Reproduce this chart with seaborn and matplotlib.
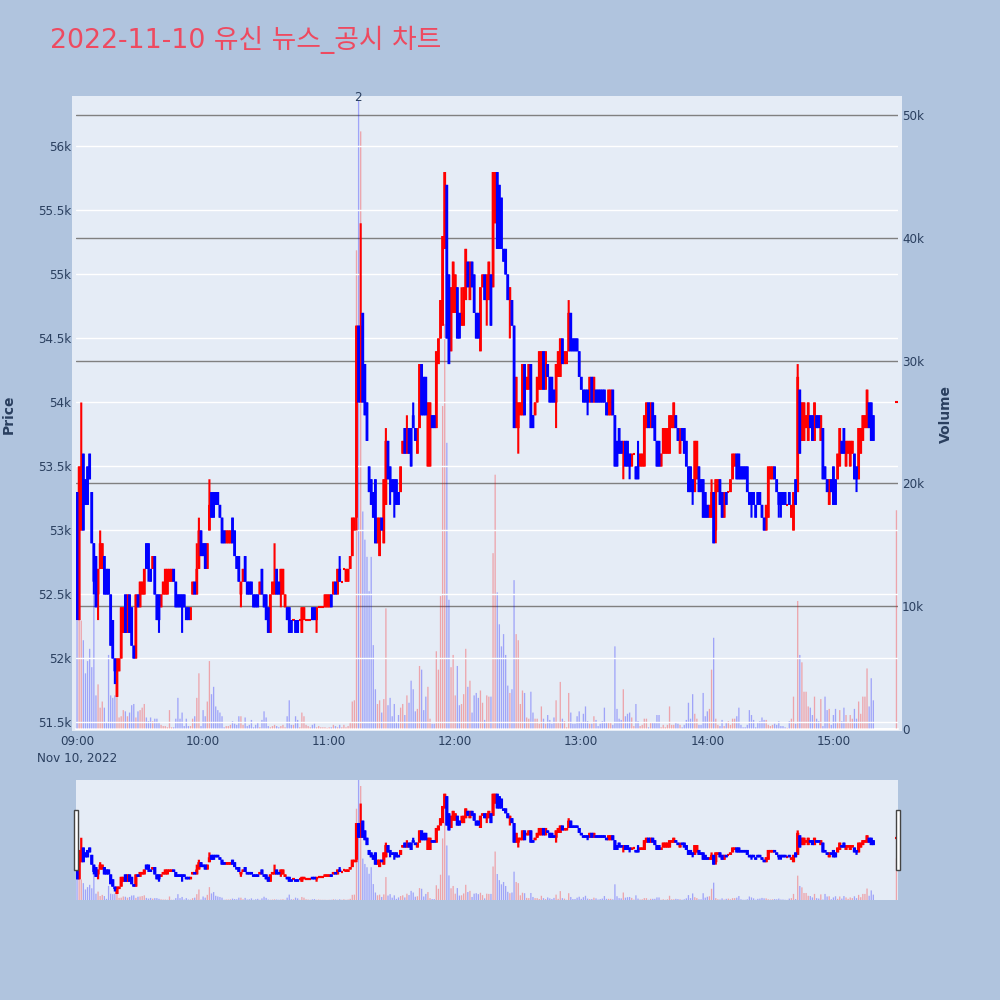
import numpy as np
import pandas as pd
import matplotlib
matplotlib.use("Agg")
import matplotlib.pyplot as plt
from matplotlib.patches import Rectangle
from matplotlib.ticker import FixedLocator
import seaborn as sns

TITLE = "2022-11-10 유신 뉴스_공시 차트"
# price in units of 100 won, one candle per minute after 09:00
opens = [533,523,530,536,534,535,536,533,529,528, 525,527,527,528,527,527,525,523,520,517,
 519,520,522,525,522,525,524,521,520,525, 524,525,525,529,529,527,527,528,525,525,
 524,525,525,525,526,526,527,526,525,525, 525,525,524,524,523,525,526,525,527,530,
 529,529,527,530,533,533,533,533,532,531, 530,529,529,529,531,530,528,528,525,526,
 528,526,526,526,525,525,525,525,527,525, 525,524,522,525,525,527,526,525,525,524,
 524,524,523,523,523,523,523,522,523,523, 523,523,524,524,523,524,524,524,524,524,
 524,525,525,526,525,527,526,527,526,526, 527,528,530,531,546,540,547,543,540,535,
 534,533,534,529,528,531,529,532,537,535, 534,534,534,533,533,536,538,536,538,538,
 539,538,536,538,543,542,542,535,535,539, 539,538,543,545,546,552,557,550,544,547,
 547,549,547,546,546,548,551,548,551,550, 547,547,544,549,550,548,548,550,549,554,
 558,557,556,552,552,550,548,548,546,538, 538,539,539,543,541,541,543,539,539,540,
 541,541,544,541,543,542,542,541,540,542, 542,545,543,543,544,547,545,545,545,544,
 542,541,541,541,540,542,540,541,541,541, 541,541,540,539,539,541,539,537,538,537,
 536,537,537,536,535,536,535,535,535,535, 535,538,540,538,540,539,537,537,535,536,
 536,536,536,538,538,539,538,536,538,538, 537,535,535,534,533,534,535,534,534,533,
 532,531,531,533,530,533,534,533,531,533, 533,533,534,535,536,536,535,535,535,535,
 533,533,533,532,533,533,532,531,530,531, 534,534,535,534,533,533,533,533,532,533,
 531,530,534,533,541,537,537,538,537,539, 539,537,539,539,537,538,535,534,532,534,
 535,534,534,535,537,538,535,536,535,536, 536,535,534,536,537,538,538,540,540,539, 540]
closes = [523,535,535,530,532,532,534,529,526,524, 527,529,529,525,525,525,521,520,519,520,
 520,524,524,522,525,522,521,520,525,524, 526,526,527,527,527,526,528,525,523,523,
 525,526,527,527,527,527,526,524,524,524, 524,524,523,523,524,526,525,527,530,528,
 528,527,529,532,531,531,532,532,531,529, 529,530,530,530,529,528,527,526,526,527,
 526,525,525,525,524,524,524,526,525,524, 523,522,525,526,526,525,525,527,527,525,
 523,522,522,523,522,522,523,524,524,523, 523,523,523,523,524,524,524,524,525,525,
 525,524,526,525,527,526,526,527,527,527, 528,531,531,546,540,546,540,539,537,533,
 532,531,529,531,531,530,534,537,534,534, 533,533,532,532,535,537,536,537,536,535,
 538,537,538,543,539,539,539,540,540,538, 538,544,545,548,553,558,545,543,549,551,
 550,545,545,547,549,552,549,551,549,547, 545,545,549,550,548,550,551,546,558,558,
 552,552,552,551,550,548,549,546,538,542, 540,540,543,539,542,543,538,538,540,542,
 544,544,541,544,542,540,540,540,543,544, 545,543,544,544,547,544,544,544,544,542,
 541,540,540,540,542,540,542,540,540,540, 540,540,539,541,541,539,535,535,536,536,
 537,535,535,535,536,536,534,534,536,536, 539,540,538,540,538,537,535,535,536,538,
 538,538,539,539,540,538,537,537,537,536, 535,533,533,533,537,537,533,533,531,531,
 531,532,533,529,534,534,532,531,533,532, 533,534,536,536,534,534,534,534,534,533,
 532,532,532,531,532,532,531,530,532,535, 535,535,534,533,532,532,532,532,532,532,
 532,533,532,542,536,540,540,539,540,538, 537,540,538,538,539,534,534,533,534,533,
 532,532,536,538,536,536,537,537,537,537, 534,534,538,538,539,539,541,538,537,537, 540]
# wick tips beyond the candle body: minute -> price
upper_wicks = {2:540,6:536,11:530,57:529,58:531,63:534,94:529,125:528,135:554,147:538,157:539,
 160:540,183:549,234:548,267:537,287:538,302:534,343:543,376:541}
lower_wicks = {8:525,10:523,18:518,34:526,39:522,50:522,78:524,97:524,114:522,133:530,149:532,151:531,
 195:546,206:545,210:536,228:538,243:539,260:534,263:534,293:532,304:529,321:531,334:531,335:531,371:533}
# volume in thousands of shares
volumes = [8.8,11,8.8,7.2,4.5,5.5,6.5,5,11,2.7, 3.6,1.7,2.2,1.7,.5,6,2.7,2.5,2.7,3.4,
 .9,1,1.5,1.4,1,1.3,1.9,2,.9,1.4, 1.5,1.7,2,.9,.6,.9,.6,.8,.8,.5,
 .3,.2,.2,.1,1.5,.1,.1,.8,2.5,.8, 1.3,.2,.8,.2,.2,.8,1,2.5,4.5,.2,
 1.5,1,2.2,5.5,2.8,3.4,1.8,1.5,1.3,1, .1,.2,.2,.3,.6,.4,.3,1,1,.3,
 .9,.2,.3,.7,.1,.3,.5,.1,.7,1.4, .9,.2,.1,.2,.3,.2,.1,.2,.3,.1,
 1,2.3,.3,.3,1,.7,.1,1.3,1,.3, .2,.1,.3,.4,.1,.2,.1,.1,.1,.05,
 .1,.1,.3,.2,.1,.3,.1,.3,.1,.2, .5,2.2,2.3,39,51.3,48.7,17.7,15.4,14,11.2,
 14,6.8,3.2,2,2.3,1.3,2.4,9.8,1.9,2.5, 1,2,.5,1.1,1.7,2,1.1,2.7,2.1,3.9,
 3.2,1.4,1.6,5.1,4.8,1.5,2.6,3.4,.8,.4, .4,6.3,4.8,10.8,26.3,33,23.3,10.5,5,6,
 2.7,5.1,1.9,2,2.8,6.5,3.4,3.9,1.3,2.7, 2.9,2.5,3.1,2.1,.7,2.7,2.6,2.6,14.3,20.7,
 11.1,8.5,6.7,7.7,6,3.5,2.9,3.2,12.1,7.7, 7.2,2,3.1,2.9,.9,.8,3,1.3,.8,.8,
 .4,1.8,.8,.4,1.1,.7,.4,.9,2.3,.5, 3.8,.8,.6,.1,2.9,1.3,.4,.4,1,1.4,
 .5,1.2,1.8,.6,.4,.4,1,.7,.2,.4, .6,1.7,.5,.5,.5,.3,6.7,1.6,.8,.7,
 3.2,1,1.2,1.3,.9,.2,2,.6,.2,.3, .8,.8,.1,.5,.5,.5,1.1,1.1,.1,.3,
 .1,.3,1.8,.3,.3,.5,.4,.3,.1,.3, .7,2.1,.8,2.8,1.2,.8,.3,.3,2.9,1,
 1.4,1.6,4.8,7.4,.8,.3,.2,.7,.2,.5, .6,.3,.8,.8,1,1.7,.3,.1,.1,.3,
 1.5,1.1,.7,.1,.5,.6,.9,.7,.7,.3, .2,.3,.4,.3,.6,.2,.2,.1,.05,.6,
 .8,2.6,.4,10.4,6,5.4,3,3,1.8,1.7, 1.1,2.6,.8,.6,2.4,.2,2.6,1.5,1.6,.3,
 1.1,1.6,.5,1.5,.6,1.7,1.1,.5,1.1,.8, 1.6,.8,2.2,1.2,2.6,2.6,4.9,1.8,4.1,2.3, 17.8]
session_minutes = list(range(380)) + [390]
time_ticks = [0, 60, 120, 180, 240, 300, 360]
time_labels = ["09:00\nNov 10, 2022", "10:00", "11:00", "12:00", "13:00", "14:00", "15:00"]
price_ticks = [51500, 52000, 52500, 53000, 53500, 54000, 54500, 55000, 55500, 56000]
price_labels = ["51.5k", "52k", "52.5k", "53k", "53.5k", "54k", "54.5k", "55k", "55.5k", "56k"]
volume_ticks = [0, 10000, 20000, 30000, 40000, 50000]
volume_labels = ["0", "10k", "20k", "30k", "40k", "50k"]

BG, PLOT_BG = "#b0c4de", "#e5ecf6"
INK = "#2a3f5f"
UP, DOWN = "#ff0000", "#0000ff"

sns.set_theme(style="white")
plt.rcParams["font.family"] = ["DejaVu Sans", "Noto Sans CJK KR"]

df = pd.DataFrame({"minute": session_minutes, "open": np.array(opens) * 100, "close": np.array(closes) * 100,
                   "volume": np.array(volumes) * 1000})
df["high"] = df[["open", "close"]].max(axis=1)
df["low"] = df[["open", "close"]].min(axis=1)
df.loc[df.minute.isin(upper_wicks), "high"] = df.minute.map(upper_wicks) * 100
df.loc[df.minute.isin(lower_wicks), "low"] = df.minute.map(lower_wicks) * 100
df["side"] = np.where(df.close < df.open, "down", "up")

W = H = 1000
def rect(l, t, r, b):
    return [l / W, 1 - b / H, (r - l) / W, (b - t) / H]

fig = plt.figure(figsize=(10, 10), dpi=100, facecolor=BG)
XLIM = (-0.5, 390.5)
PRICE_LIM = (51453, 56363)
VOL_LIM = (0, 51260)

def draw(price_ax, vol_ax, wick_lw, body_lw):
    sns.barplot(data=df, x="minute", y="volume", hue="side", palette={"up": UP, "down": DOWN},
                hue_order=["up", "down"], native_scale=True, dodge=False, width=0.62, alpha=0.3,
                saturation=1, linewidth=0, legend=False, ax=vol_ax)
    for bar in vol_ax.patches:
        bar.set_snap(False)
    for side, col in (("up", UP), ("down", DOWN)):
        d = df[df.side == side]
        wicks = price_ax.vlines(d.minute, d.low, d.high, color=col, lw=wick_lw, capstyle="butt")
        bodies = price_ax.vlines(d.minute, d[["open", "close"]].min(axis=1), d[["open", "close"]].max(axis=1),
                                 color=col, lw=body_lw, capstyle="butt")
        wicks.set_snap(False); bodies.set_snap(False)
        flat = d[d.open == d.close]
        price_ax.hlines(flat.close, flat.minute - 0.5, flat.minute + 0.5, color=col, lw=wick_lw)
    vol_ax.set_xlim(*XLIM); price_ax.set_xlim(*XLIM)
    vol_ax.set_ylim(*VOL_LIM); price_ax.set_ylim(*PRICE_LIM)
    vol_ax.set_xlabel(""); vol_ax.set_ylabel(""); price_ax.set_xlabel(""); price_ax.set_ylabel("")
    for a in (price_ax, vol_ax):
        for s in a.spines.values():
            s.set_visible(False)
    price_ax.patch.set_visible(False)
    vol_ax.patch.set_visible(False)
    vol_ax.set_zorder(1); price_ax.set_zorder(2)

# outer panel behind the main axes
fig.add_artist(Rectangle((72 / W, 1 - 731 / H), 830 / W, 635 / H, transform=fig.transFigure,
                         facecolor=PLOT_BG, edgecolor="none", zorder=0))
# main chart
ax = fig.add_axes(rect(76, 100, 897.5, 728.5))
ax2 = ax.twinx()
draw(ax, ax2, 1.5, 2.0)
ax.yaxis.set_major_locator(FixedLocator(price_ticks))
ax.set_yticklabels(price_labels)
ax2.yaxis.set_major_locator(FixedLocator(volume_ticks))
ax2.set_yticklabels(volume_labels)
ax.xaxis.set_major_locator(FixedLocator(time_ticks))
ax.set_xticklabels(time_labels, linespacing=1.35)
ax.tick_params(axis="y", length=0, pad=3.2, labelsize=8.64, labelcolor=INK)
ax.tick_params(axis="x", length=0, pad=5, labelsize=8.64, labelcolor=INK)
ax2.tick_params(axis="y", length=0, pad=3.2, labelsize=8.64, labelcolor=INK)
ax.grid(axis="y", color="white", lw=1.0)
ax.grid(axis="x", visible=False)
ax2.grid(axis="y", color="#808080", lw=1.0)
ax2.grid(axis="x", visible=False)
zero_line = ax2.yaxis.get_gridlines()[0]
zero_line.set_color("white"); zero_line.set_linewidth(1.4); zero_line.set_clip_on(False)
ax.set_axisbelow(True); ax2.set_axisbelow(True)
ax2.annotate("2", xy=(134, 1), xycoords=ax2.get_xaxis_transform(), xytext=(-0.6, 2), textcoords="offset points",
             ha="center", va="center", fontsize=8.64, color=INK, annotation_clip=False)

# range slider
sl = fig.add_axes(rect(76, 780, 897.5, 900))
fig.add_artist(Rectangle((76 / W, 1 - 900 / H), 822 / W, 120 / H, transform=fig.transFigure,
                         facecolor=PLOT_BG, edgecolor="none", zorder=0))
sl2 = sl.twinx()
draw(sl, sl2, 1.6, 2.3)
for a in (sl, sl2):
    a.set_xticks([]); a.set_yticks([]); a.grid(False)

# slider handles
for x0 in (73.5, 895.5):
    fig.add_artist(Rectangle((x0 / W, 1 - 870 / H), 4.5 / W, 60 / H, transform=fig.transFigure,
                             facecolor="white", edgecolor="#444444", lw=1, zorder=5))

fig.text(9 / W, 1 - 414 / H, "Price", rotation=90, ha="center", va="center", fontsize=10,
         fontweight="bold", color=INK)
fig.text(946 / W, 1 - 414 / H, "Volume", rotation=90, ha="center", va="center", fontsize=10,
         fontweight="bold", color=INK)
fig.text(50 / W, 1 - 40 / H, TITLE, ha="left", va="center", fontsize=19.3, color="#ee4a60")

fig.savefig("out.png", dpi=100, facecolor=BG)
